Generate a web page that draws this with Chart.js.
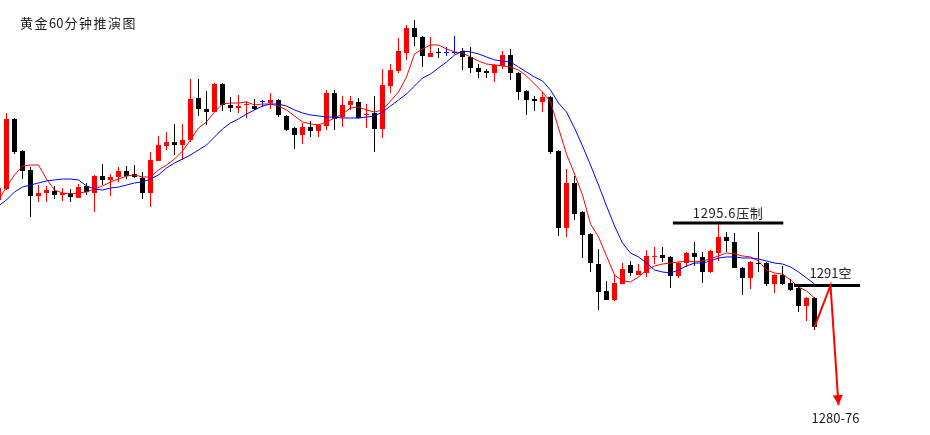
<!DOCTYPE html>
<html><head><meta charset="utf-8">
<script src="https://cdn.jsdelivr.net/npm/chart.js@4"></script>
<style>html,body{margin:0;padding:0;background:#fff;}#wrap{width:930px;height:435px;}</style>
</head><body><div id="wrap"><canvas id="c" width="930" height="435"></canvas></div>
<script>
// ---- 黄金 60 分钟 K 线数据 (index 0 = partially visible first bar) ----
const open = [1297.29,1298.10,1303.25,1300.89,1299.49,1297.58,1297.80,1297.95,1297.66,1297.80,
1297.44,1298.32,1297.80,1299.05,1298.76,1298.98,1299.42,1299.20,1298.91,1297.80,
1300.16,1301.26,1301.55,1301.33,1301.70,1304.79,1303.98,1303.76,1305.82,1304.28,
1304.06,1304.28,1304.20,1304.50,1304.42,1304.64,1303.47,1302.58,1302.07,1302.66,
1302.36,1302.73,1305.16,1303.39,1304.28,1304.50,1303.54,1303.69,1302.51,1305.67,
1306.78,1308.10,1309.94,1309.28,1307.81,1308.18,1308.10,1308.10,1308.25,1307.81,
1307.00,1306.78,1306.63,1307.15,1307.95,1306.63,1305.31,1304.72,1304.50,1304.86,
1300.89,1295.23,1298.54,1296.41,1294.79,1292.58,1290.59,1289.93,1291.11,1292.51,
1291.77,1291.92,1293.10,1293.24,1293.10,1291.70,1292.65,1293.39,1293.10,1291.99,
1293.39,1294.57,1294.20,1292.29,1291.55,1292.65,1292.65,1291.11,1291.77,1291.18,
1290.81,1289.49,1290.08];
const close = [1298.17,1303.25,1300.82,1299.42,1297.58,1297.80,1298.02,1297.66,1297.80,1297.51,
1298.24,1297.88,1299.05,1298.76,1298.98,1299.42,1299.05,1298.98,1297.80,1300.23,
1301.33,1301.55,1301.33,1301.70,1304.72,1303.98,1303.76,1305.82,1304.28,1304.06,
1304.20,1304.35,1303.98,1304.50,1304.64,1303.54,1302.44,1302.07,1302.66,1302.36,
1302.81,1305.16,1303.25,1304.28,1304.57,1303.32,1303.61,1302.51,1305.75,1306.85,
1308.25,1309.94,1309.28,1307.88,1308.10,1308.10,1308.10,1308.10,1307.81,1307.00,
1306.70,1306.63,1307.22,1307.95,1306.63,1305.23,1304.64,1304.57,1304.86,1300.82,
1295.23,1298.54,1296.26,1294.71,1292.65,1290.52,1289.93,1291.18,1292.21,1291.92,
1292.07,1293.17,1293.17,1293.02,1291.70,1292.65,1293.39,1293.10,1291.99,1293.54,
1294.57,1294.27,1292.29,1291.55,1292.73,1292.58,1291.11,1291.77,1291.11,1290.67,
1289.49,1290.08,1287.95];
const high = [1298.32,1303.69,1303.32,1300.97,1299.72,1298.39,1298.32,1298.32,1298.17,1298.10,
1298.46,1298.54,1299.13,1299.94,1299.20,1299.72,1299.79,1299.86,1299.35,1300.82,
1302.00,1302.29,1302.88,1302.88,1306.19,1306.19,1305.31,1305.89,1305.89,1304.86,
1305.01,1304.57,1304.72,1304.64,1305.16,1304.72,1303.54,1302.66,1302.95,1303.10,
1302.88,1305.38,1305.38,1304.94,1304.94,1304.79,1304.35,1304.94,1306.92,1307.29,
1309.20,1310.16,1310.53,1309.35,1309.28,1308.47,1308.54,1309.35,1308.47,1308.54,
1307.29,1306.92,1307.29,1308.25,1308.40,1306.70,1305.38,1304.94,1305.23,1304.94,
1300.97,1299.57,1299.05,1296.48,1294.86,1293.68,1291.33,1291.77,1292.65,1292.80,
1292.58,1293.61,1293.83,1293.83,1293.17,1292.73,1293.46,1294.20,1293.46,1293.61,
1295.60,1294.93,1294.86,1292.36,1292.80,1294.93,1292.73,1291.84,1292.43,1291.48,
1290.89,1290.15,1290.15];
const low = [1297.14,1298.02,1300.67,1298.83,1296.04,1297.14,1297.14,1297.36,1297.21,1297.14,
1297.44,1297.66,1296.41,1298.39,1297.58,1298.61,1298.83,1298.91,1297.36,1296.77,
1300.16,1300.97,1300.60,1300.23,1301.55,1303.47,1302.81,1303.76,1303.83,1303.76,
1303.69,1303.32,1303.91,1304.13,1303.98,1303.39,1302.36,1301.04,1301.41,1301.92,
1301.92,1302.44,1302.44,1302.66,1303.91,1303.25,1302.58,1300.82,1301.85,1305.16,
1306.63,1307.59,1308.62,1307.07,1307.81,1307.73,1307.88,1308.03,1306.85,1306.63,
1306.26,1306.26,1305.97,1306.92,1306.12,1304.64,1303.54,1303.83,1303.76,1300.67,
1294.64,1294.57,1295.82,1293.02,1291.99,1289.20,1289.93,1289.86,1291.11,1291.70,
1291.77,1291.62,1292.58,1292.73,1290.81,1291.55,1292.36,1292.43,1291.18,1291.92,
1292.80,1293.46,1292.29,1290.30,1290.74,1291.99,1290.96,1290.45,1291.04,1290.59,
1289.05,1288.39,1287.73];
// moving-average lines
const maFast = [1297.29,1298.24,1299.13,1299.79,1299.86,1299.86,1298.83,1298.02,1297.80,1297.73,
1297.80,1297.88,1298.10,1298.32,1298.61,1298.83,1299.05,1299.13,1298.98,1298.98,
1299.49,1299.86,1300.30,1300.89,1301.70,1302.58,1303.03,1303.76,1304.35,1304.42,
1304.42,1304.50,1304.28,1304.35,1304.35,1304.20,1303.91,1303.47,1303.03,1302.88,
1302.81,1303.03,1303.32,1303.61,1304.06,1304.13,1303.91,1303.76,1303.91,1304.57,
1305.23,1306.34,1308.03,1308.40,1308.69,1308.69,1308.40,1308.18,1308.10,1307.81,
1307.51,1307.29,1307.22,1307.15,1307.07,1306.85,1306.41,1305.82,1305.23,1304.50,
1302.58,1300.67,1299.20,1297.66,1295.52,1294.57,1293.17,1291.77,1291.33,1291.26,
1291.62,1292.14,1292.43,1292.58,1292.65,1292.73,1292.80,1292.73,1292.80,1292.95,
1293.17,1293.39,1293.32,1293.17,1293.10,1292.80,1292.14,1291.92,1291.84,1291.40,
1290.89,1290.59,1290.08];
const maSlow = [1296.85,1297.29,1297.88,1298.24,1298.39,1298.54,1298.69,1298.76,1298.83,1298.83,
1298.76,1298.32,1298.10,1298.02,1298.17,1298.24,1298.39,1298.54,1298.61,1298.83,
1299.13,1299.64,1300.01,1300.30,1300.60,1300.97,1301.33,1301.92,1302.51,1302.95,
1303.25,1303.61,1303.91,1304.20,1304.35,1304.35,1304.20,1303.91,1303.69,1303.54,
1303.47,1303.39,1303.39,1303.32,1303.32,1303.32,1303.39,1303.47,1303.76,1304.20,
1304.64,1305.09,1305.67,1306.26,1306.56,1307.00,1307.44,1307.95,1308.25,1308.18,
1308.03,1307.81,1307.59,1307.51,1307.44,1307.07,1306.70,1306.34,1306.04,1305.38,
1304.42,1303.76,1302.58,1301.26,1299.86,1298.39,1296.85,1295.38,1294.12,1293.39,
1293.10,1292.65,1292.14,1291.99,1291.92,1292.14,1292.43,1292.65,1292.65,1292.80,
1293.02,1293.10,1293.10,1293.02,1293.02,1292.95,1292.80,1292.65,1292.58,1292.36,
1291.99,1291.55,1291.11];
// annotations
const titleParts = ['黄金', '60', '分钟推演图'];
const resistLevel = 1295.6, resistSpan = [84.3, 98.1], resistLabel = '1295.6压制';
const shortLevel = 1291, shortSpan = [99.45, 107.7], shortLabel = '1291空';
const projX = [102, 104, 105], projY = [1287.95, 1291, 1282.2], targetLabel = '1280-76';

const RED = 'rgb(255,0,0)', BLACK = '#000', BLUE = 'rgb(0,0,255)';
const idx = open.map((_, i) => i);
const colors = idx.map(i => close[i] > open[i] ? RED : (close[i] < open[i] ? BLACK : BLUE));
const wickData = idx.map(i => ({x: i, y: [low[i], high[i]]}));
const bodyData = idx.map(i => ({x: i, y: [open[i], close[i]]}));
const fastData = idx.map(i => ({x: i, y: maFast[i]}));
const slowData = idx.map(i => ({x: i, y: maSlow[i]}));
const lineBase = {type: 'line', pointRadius: 0, tension: 0, fill: false, borderCapStyle: 'butt'};

function setSpacing(ctx, v) { try { ctx.letterSpacing = v; } catch (e) {} }

const annot = {
  id: 'annot',
  afterDatasetsDraw(chart) {
    const {ctx, scales: {x, y}} = chart;
    ctx.save();
    const n = projX.length;
    const tx = x.getPixelForValue(projX[n - 1]), ty = y.getPixelForValue(projY[n - 1]);
    const px = x.getPixelForValue(projX[n - 2]), py = y.getPixelForValue(projY[n - 2]);
    const a = Math.atan2(ty - py, tx - px), L = 10, W = 5;
    ctx.fillStyle = RED;
    ctx.beginPath();
    ctx.moveTo(tx, ty);
    ctx.lineTo(tx - L * Math.cos(a) + W * Math.sin(a), ty - L * Math.sin(a) - W * Math.cos(a));
    ctx.lineTo(tx - L * Math.cos(a) - W * Math.sin(a), ty - L * Math.sin(a) + W * Math.cos(a));
    ctx.closePath();
    ctx.fill();

    ctx.fillStyle = '#222';
    ctx.textBaseline = 'middle';
    ctx.font = '13px "Noto Sans CJK SC"';
    ctx.textAlign = 'center';
    setSpacing(ctx, '0.6px');
    ctx.fillText(resistLabel, x.getPixelForValue((resistSpan[0] + resistSpan[1]) / 2), y.getPixelForValue(resistLevel) - 10);
    setSpacing(ctx, '0px');
    ctx.fillText(shortLabel, x.getPixelForValue(projX[1]), y.getPixelForValue(shortLevel) - 12);
    ctx.fillText(targetLabel, tx - 3, ty + 13);

    // title: CJK characters slightly spaced, digits tight
    ctx.textAlign = 'left';
    let cx = 20;
    titleParts.forEach((part, k) => {
      const sp = k === 1 ? 0 : 1.5;
      setSpacing(ctx, sp + 'px');
      ctx.fillText(part, cx, 23);
      cx += ctx.measureText(part).width + (k === 1 ? 1 : 0);
      if (k === 1) cx -= 0;
    });
    ctx.restore();
  }
};

new Chart(document.getElementById('c'), {
  type: 'bar',
  data: {datasets: [
    {type: 'bar', data: wickData, backgroundColor: colors, barThickness: 1, grouped: false, order: 6, inflateAmount: 0, borderWidth: 0, borderSkipped: false},
    {type: 'bar', data: bodyData, backgroundColor: colors, barThickness: 5, grouped: false, order: 5, inflateAmount: 0, borderWidth: 0, borderSkipped: false, minBarLength: 1},
    {...lineBase, data: fastData, borderColor: RED, borderWidth: 1, order: 4},
    {...lineBase, data: slowData, borderColor: BLUE, borderWidth: 1, order: 3},
    {...lineBase, data: [{x: resistSpan[0], y: resistLevel}, {x: resistSpan[1], y: resistLevel}], borderColor: BLACK, borderWidth: 3, order: 2},
    {...lineBase, data: [{x: shortSpan[0], y: shortLevel}, {x: shortSpan[1], y: shortLevel}], borderColor: BLACK, borderWidth: 3, order: 1},
    {...lineBase, data: projX.map((v, i) => ({x: v, y: projY[i]})), borderColor: RED, borderWidth: 2, order: 0}
  ]},
  options: {
    responsive: false,
    animation: false,
    events: [],
    layout: {padding: 0},
    plugins: {legend: {display: false}, tooltip: {enabled: false}, title: {display: false}},
    scales: {
      x: {type: 'linear', min: 0.1875, max: 116.4375, offset: false, display: false, grid: {display: false}},
      y: {type: 'linear', min: 1280, max: 1312, display: false, grid: {display: false}}
    }
  },
  plugins: [annot]
});
</script></body></html>
